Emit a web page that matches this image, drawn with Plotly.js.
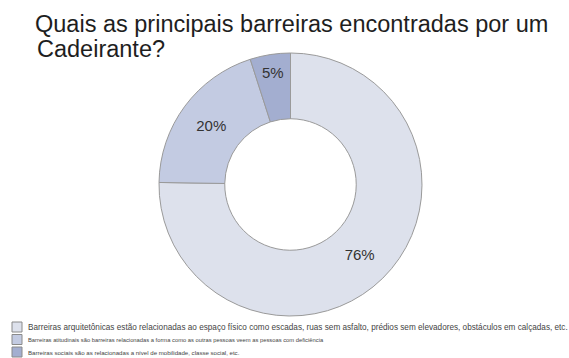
<!DOCTYPE html>
<html>
<head>
<meta charset="utf-8">
<script src="https://cdn.plot.ly/plotly-3.0.1.min.js"></script>
<style>html,body{margin:0;padding:0;background:#fff;}#chart{width:569px;height:358px;}</style>
</head>
<body>
<div id="chart"></div>
<script>
const titleLine1 = "Quais as principais barreiras encontradas por um";
const titleLine2 = "Cadeirante?";
const labels = [
  "Barreiras arquitetônicas estão relacionadas ao espaço físico como escadas, ruas sem asfalto, prédios sem elevadores, obstáculos em calçadas, etc.",
  "Barreiras atitudinais são barreiras relacionadas a forma como as outras pessoas veem as pessoas com deficiência",
  "Barreiras sociais são as relacionadas a nível de mobilidade, classe social, etc."
];
const values = [76, 20, 5];
const colors = ["#dde1ec", "#c3cbe2", "#a3aed0"];

const W = 569, H = 358;
const px = x => x / W;
const py = y => 1 - y / H;

const trace = {
  type: "pie",
  labels: labels,
  values: values,
  hole: 0.5,
  sort: false,
  direction: "clockwise",
  rotation: 0,
  marker: { colors: colors, line: { color: "#9a9a9a", width: 1 } },
  texttemplate: "%{value}%",
  textposition: "inside",
  insidetextorientation: "horizontal",
  textfont: { family: "Liberation Sans, Arial, sans-serif", size: 15, color: "#333333" },
  domain: { x: [px(159), px(422)], y: [py(316), py(53)] },
  hoverinfo: "label+value",
  showlegend: false
};

const legendRowsY = [327, 339.5, 352];
const legendFont = [8.2, 5.8, 6.1];
const annotations = [
  {
    text: titleLine2, xref: "paper", yref: "paper",
    x: px(35), y: py(49), xanchor: "left", yanchor: "middle", showarrow: false,
    font: { family: "Liberation Sans, Arial, sans-serif", size: 23.5, color: "#1e1e1e" }
  }
];
const shapes = [];
labels.forEach((lab, i) => {
  annotations.push({
    text: lab, xref: "paper", yref: "paper",
    x: px(26), y: py(legendRowsY[i]), xanchor: "left", yanchor: "middle", showarrow: false,
    font: { family: "Liberation Sans, Arial, sans-serif", size: legendFont[i], color: "#444444" }
  });
  shapes.push({
    type: "rect", xref: "paper", yref: "paper",
    x0: px(12), x1: px(22), y0: py(legendRowsY[i] + 5), y1: py(legendRowsY[i] - 5),
    fillcolor: colors[i], line: { color: "#8a8a8a", width: 1 }
  });
});

const layout = {
  width: W, height: H,
  margin: { l: 0, r: 0, t: 0, b: 0 },
  paper_bgcolor: "#ffffff",
  plot_bgcolor: "#ffffff",
  title: {
    text: titleLine1, xref: "container", yref: "container",
    x: px(35), xanchor: "left", y: py(24), yanchor: "middle",
    font: { family: "Liberation Sans, Arial, sans-serif", size: 23.5, color: "#1e1e1e" }
  },
  showlegend: false,
  annotations: annotations,
  shapes: shapes
};

Plotly.newPlot("chart", [trace], layout, { displayModeBar: false, staticPlot: true });
</script>
</body>
</html>
